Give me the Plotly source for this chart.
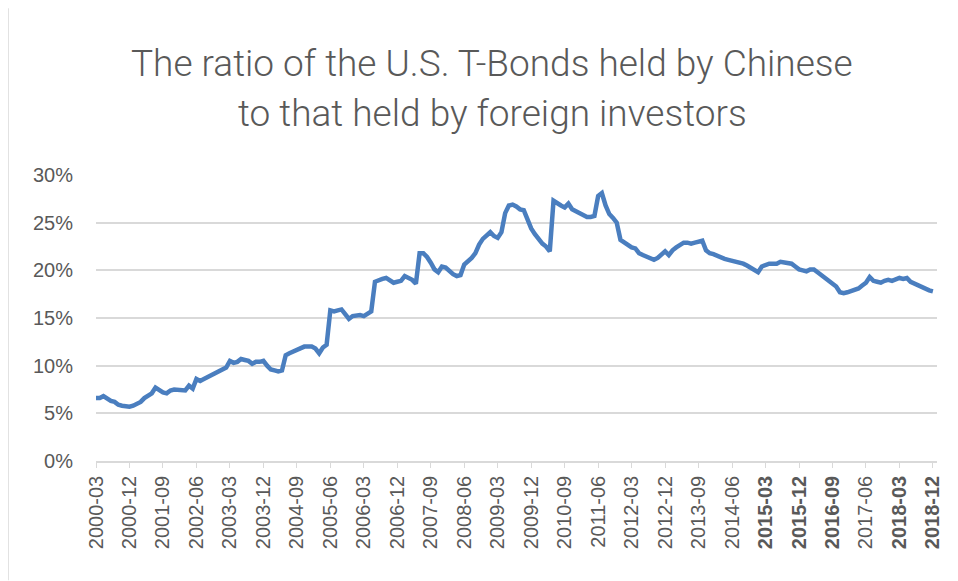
import plotly.graph_objects as go

# Monthly ratio (%) from 2000-03 to 2018-12
start_year, start_month = 2000, 3
ratio_pct = [
    6.6, 6.6, 6.8, 6.5, 6.3, 6.2, 5.9, 5.8, 5.7, 5.7, 5.8, 6.0,
    6.2, 6.6, 6.9, 7.1, 7.7, 7.4, 7.2, 7.1, 7.4, 7.5, 7.5, 7.5,
    7.4, 7.9, 7.6, 8.6, 8.4, 8.6, 8.8, 9.0, 9.2, 9.5, 9.7, 9.8,
    10.5, 10.3, 10.4, 10.7, 10.6, 10.5, 10.2, 10.4, 10.4, 10.5, 10.0, 9.6,
    9.5, 9.4, 9.5, 11.1, 11.3, 11.5, 11.7, 11.8, 12.0, 12.0, 12.0, 11.8,
    11.3, 11.9, 12.2, 15.8, 15.7, 15.8, 15.9, 15.4, 14.9, 15.2, 15.3, 15.3,
    15.2, 15.4, 15.7, 18.8, 19.0, 19.1, 19.2, 18.9, 18.7, 18.8, 18.9, 19.4,
    19.2, 19.0, 18.6, 21.8, 21.8, 21.4, 20.8, 20.1, 19.8, 20.4, 20.3, 19.9,
    19.6, 19.4, 19.5, 20.6, 20.9, 21.3, 21.8, 22.7, 23.3, 23.7, 24.0, 23.6,
    23.4, 24.0, 26.0, 26.8, 26.9, 26.7, 26.4, 26.3, 25.2, 24.4, 23.8, 23.3,
    22.8, 22.5, 22.0, 27.3, 27.0, 26.8, 26.6, 27.0, 26.4, 26.2, 26.1, 25.9,
    25.6, 25.6, 25.7, 27.8, 28.1, 26.8, 25.9, 25.5, 25.0, 23.2, 22.9, 22.7,
    22.4, 22.3, 21.8, 21.6, 21.4, 21.2, 21.1, 21.3, 21.6, 22.0, 21.6, 22.1,
    22.4, 22.7, 22.9, 22.9, 22.8, 22.9, 23.0, 23.1, 22.1, 21.8, 21.7, 21.5,
    21.4, 21.2, 21.1, 21.0, 20.9, 20.9, 20.7, 20.5, 20.3, 20.0, 19.8, 20.4,
    20.6, 20.7, 20.7, 20.7, 20.9, 20.8, 20.8, 20.7, 20.4, 20.1, 20.0, 19.9,
    20.1, 20.1, 19.8, 19.5, 19.1, 18.8, 18.5, 18.3, 17.7, 17.6, 17.7, 17.8,
    18.0, 18.1, 18.4, 18.7, 19.3, 18.9, 18.8, 18.7, 18.9, 19.0, 18.9, 19.0,
    19.2, 19.1, 19.2, 18.8, 18.6, 18.5, 18.3, 18.1, 17.9, 17.8,
]

tick_labels = [
    "2000-03", "2000-12", "2001-09", "2002-06", "2003-03", "2003-12",
    "2004-09", "2005-06", "2006-03", "2006-12", "2007-09", "2008-06",
    "2009-03", "2009-12", "2010-09", "2011-06", "2012-03", "2012-12",
    "2013-09", "2014-06", "2015-03", "2015-12", "2016-09", "2017-06",
    "2018-03", "2018-12",
]
bold_labels = {"2015-03", "2015-12", "2016-09", "2018-03", "2018-12"}
y_ticks = [0, 0.05, 0.10, 0.15, 0.20, 0.25, 0.30]

title_lines = ["The ratio of the U.S. T-Bonds held by Chinese",
               "to that held by foreign investors"]

# Build month labels and positions
months = []
y, m = start_year, start_month
for _ in ratio_pct:
    months.append(f"{y}-{m:02d}")
    m += 1
    if m > 12:
        m = 1
        y += 1
x_idx = list(range(len(months)))
values = [v / 100 for v in ratio_pct]

tick_pos = [months.index(t) for t in tick_labels]
tick_txt = [f"<b>{t}</b>" if t in bold_labels else t for t in tick_labels]

# page body has an 8px margin; figure coordinates are offset by it
OFF = 8
PL, PR, PT, PB = 96 - OFF, 937 - OFF, 175 - OFF, 461.5 - OFF
W, H = 950, 573

fig = go.Figure()
fig.add_trace(go.Scatter(
    x=x_idx, y=values, mode="lines",
    line=dict(color="#4a7ebf", width=4.5),
    hovertext=months, hoverinfo="text+y",
    showlegend=False,
))

gray = "#595959"
pw, ph = PR - PL, PB - PT
fig.update_layout(
    width=W, height=H,
    margin=dict(l=PL, r=W - PR, t=PT, b=H - PB, autoexpand=False),
    paper_bgcolor="white", plot_bgcolor="white",
    font=dict(family="Liberation Sans, Arial, sans-serif", color=gray),
    xaxis=dict(
        range=[0, len(months) + 0.1],
        tickmode="array", tickvals=tick_pos, ticktext=tick_txt,
        tickangle=-90, tickfont=dict(size=20, color=gray),
        ticks="outside", ticklen=5, tickcolor="#d9d9d9", tickwidth=1,
        showline=True, linecolor="#d9d9d9", linewidth=1.5,
        showgrid=False, zeroline=False, fixedrange=True,
    ),
    yaxis=dict(
        range=[0, 0.30],
        tickmode="array", tickvals=y_ticks,
        tickformat=".0%", tickfont=dict(size=20, color=gray),
        showgrid=True, gridcolor="#d9d9d9", gridwidth=1.5,
        zeroline=False, showline=False,
        ticks="outside", ticklen=18, tickcolor="rgba(0,0,0,0)",
        fixedrange=True,
    ),
    shapes=[dict(type="line", xref="paper", yref="paper",
                 x0=(0 - PL) / pw, x1=(0 - PL) / pw,
                 y0=(PB - H) / ph, y1=PB / ph,
                 line=dict(color="#d9d9d9", width=1.5))],
)

for i, line in enumerate(title_lines):
    sy = 63 + 50 * i - OFF
    fig.add_annotation(
        text=line, xref="paper", yref="paper",
        x=(492 - OFF - PL) / pw, y=(PB - sy) / ph,
        xanchor="center", yanchor="middle", showarrow=False,
        font=dict(family="Roboto, Liberation Sans, sans-serif", size=37,
                  color=gray, weight=300),
    )

fig.write_html("out.html")
